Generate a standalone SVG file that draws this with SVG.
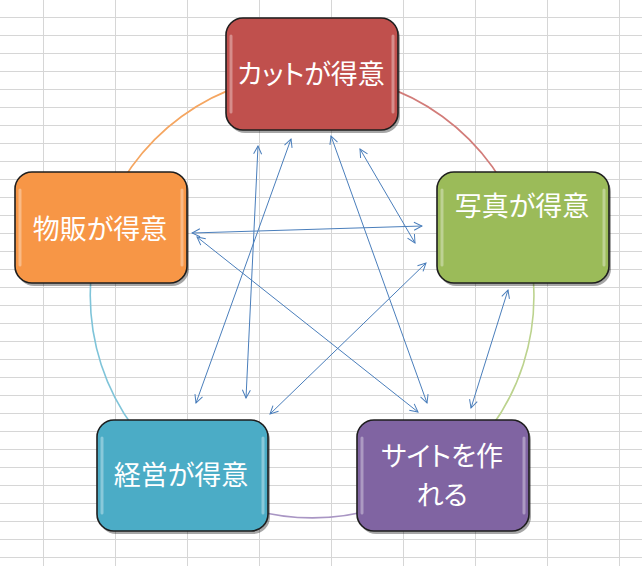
<svg xmlns="http://www.w3.org/2000/svg" width="642" height="566" viewBox="0 0 642 566">
<style>
.grid line{stroke:#d6d6d6;stroke-width:1}
.box{stroke:#1e1e1e;stroke-width:1.6}
.shadow{fill:#000;opacity:0.35}
.hl{fill:none;stroke:#fff;stroke-opacity:0.35;stroke-width:3;stroke-linecap:round}
.lbl{font-family:"Noto Sans CJK JP","Noto Sans CJK SC",sans-serif;font-size:27px;fill:#fff;text-anchor:middle;dominant-baseline:central;font-feature-settings:"palt"}
.arc{fill:none;stroke-width:1.6}
.con line{stroke:#4a7ebb;stroke-width:1;marker-start:url(#ah);marker-end:url(#ah)}
</style>
<defs>
<marker id="ah" viewBox="0 0 10 10" refX="9" refY="5" markerWidth="10" markerHeight="10" markerUnits="userSpaceOnUse" orient="auto-start-reverse">
<path d="M1,1 L9,5 L1,9" fill="none" stroke="#4a7ebb" stroke-width="1"/>
</marker>
</defs>
<rect width="642" height="566" fill="#fff"/>
<g class="grid">
<line x1="43.5" y1="0" x2="43.5" y2="566"/><line x1="115.5" y1="0" x2="115.5" y2="566"/><line x1="187.5" y1="0" x2="187.5" y2="566"/><line x1="259.5" y1="0" x2="259.5" y2="566"/><line x1="331.5" y1="0" x2="331.5" y2="566"/><line x1="403.5" y1="0" x2="403.5" y2="566"/><line x1="475.5" y1="0" x2="475.5" y2="566"/><line x1="547.5" y1="0" x2="547.5" y2="566"/><line x1="619.5" y1="0" x2="619.5" y2="566"/>
<line x1="0" y1="17.5" x2="642" y2="17.5"/><line x1="0" y1="35.5" x2="642" y2="35.5"/><line x1="0" y1="53.5" x2="642" y2="53.5"/><line x1="0" y1="71.5" x2="642" y2="71.5"/><line x1="0" y1="89.5" x2="642" y2="89.5"/><line x1="0" y1="107.5" x2="642" y2="107.5"/><line x1="0" y1="125.5" x2="642" y2="125.5"/><line x1="0" y1="143.5" x2="642" y2="143.5"/><line x1="0" y1="161.5" x2="642" y2="161.5"/><line x1="0" y1="179.5" x2="642" y2="179.5"/><line x1="0" y1="197.5" x2="642" y2="197.5"/><line x1="0" y1="215.5" x2="642" y2="215.5"/><line x1="0" y1="233.5" x2="642" y2="233.5"/><line x1="0" y1="251.5" x2="642" y2="251.5"/><line x1="0" y1="269.5" x2="642" y2="269.5"/><line x1="0" y1="287.5" x2="642" y2="287.5"/><line x1="0" y1="305.5" x2="642" y2="305.5"/><line x1="0" y1="323.5" x2="642" y2="323.5"/><line x1="0" y1="341.5" x2="642" y2="341.5"/><line x1="0" y1="359.5" x2="642" y2="359.5"/><line x1="0" y1="377.5" x2="642" y2="377.5"/><line x1="0" y1="395.5" x2="642" y2="395.5"/><line x1="0" y1="413.5" x2="642" y2="413.5"/><line x1="0" y1="431.5" x2="642" y2="431.5"/><line x1="0" y1="449.5" x2="642" y2="449.5"/><line x1="0" y1="467.5" x2="642" y2="467.5"/><line x1="0" y1="485.5" x2="642" y2="485.5"/><line x1="0" y1="503.5" x2="642" y2="503.5"/><line x1="0" y1="521.5" x2="642" y2="521.5"/><line x1="0" y1="539.5" x2="642" y2="539.5"/><line x1="0" y1="557.5" x2="642" y2="557.5"/>
</g>
<g id="cycle">
<path class="arc" stroke="#d27c79" d="M312,74 A222,222 0 0 1 523,227.5"/>
<path class="arc" stroke="#bcd38e" d="M523,227.5 A222,222 0 0 1 443,475.5"/>
<path class="arc" stroke="#a996c4" d="M443,475.5 A222,222 0 0 1 182,475.5"/>
<path class="arc" stroke="#7fc4d9" d="M182,475.5 A222,222 0 0 1 101,227.5"/>
<path class="arc" stroke="#f5a661" d="M101,227.5 A222,222 0 0 1 312,74"/>
</g>
<g id="connectors" class="con">
<line x1="192" y1="233" x2="422" y2="226"/>
<line x1="197" y1="237" x2="418" y2="412"/>
<line x1="258" y1="146" x2="246" y2="398"/>
<line x1="291" y1="139" x2="196" y2="403"/>
<line x1="331" y1="136" x2="427" y2="403"/>
<line x1="360" y1="149" x2="415" y2="243"/>
<line x1="426" y1="263" x2="270" y2="414"/>
<line x1="508" y1="290" x2="471" y2="408"/>
</g>
<g id="n-cut">
<rect class="shadow" x="228" y="21" width="172" height="112" rx="17"/>
<rect class="box" x="226" y="18" width="172" height="112" rx="17" fill="#c0504d"/>
<path class="hl" d="M231,36 L231,112 M393,36 L393,112"/>
<text class="lbl" x="311" y="72">カットが得意</text>
</g>
<g id="n-photo">
<rect class="shadow" x="439" y="175" width="172" height="111" rx="17"/>
<rect class="box" x="437" y="172" width="172" height="111" rx="17" fill="#9bbb59"/>
<path class="hl" d="M442,190 L442,265 M604,190 L604,265"/>
<text class="lbl" x="522" y="204">写真が得意</text>
</g>
<g id="n-sales">
<rect class="shadow" x="17" y="175" width="172" height="111" rx="17"/>
<rect class="box" x="15" y="172" width="172" height="111" rx="17" fill="#f79646"/>
<path class="hl" d="M20,190 L20,265 M182,190 L182,265"/>
<text class="lbl" x="100" y="227">物販が得意</text>
</g>
<g id="n-mgmt">
<rect class="shadow" x="99" y="423" width="171" height="111" rx="17"/>
<rect class="box" x="97" y="420" width="171" height="111" rx="17" fill="#4bacc6"/>
<path class="hl" d="M102,438 L102,513 M263,438 L263,513"/>
<text class="lbl" x="181" y="473">経営が得意</text>
</g>
<g id="n-site">
<rect class="shadow" x="359" y="423" width="172" height="111" rx="17"/>
<rect class="box" x="357" y="420" width="172" height="111" rx="17" fill="#8064a2"/>
<path class="hl" d="M362,438 L362,513 M524,438 L524,513"/>
<text class="lbl"><tspan x="442" y="454">サイトを作</tspan><tspan x="442" y="493">れる</tspan></text>
</g>
</svg>
